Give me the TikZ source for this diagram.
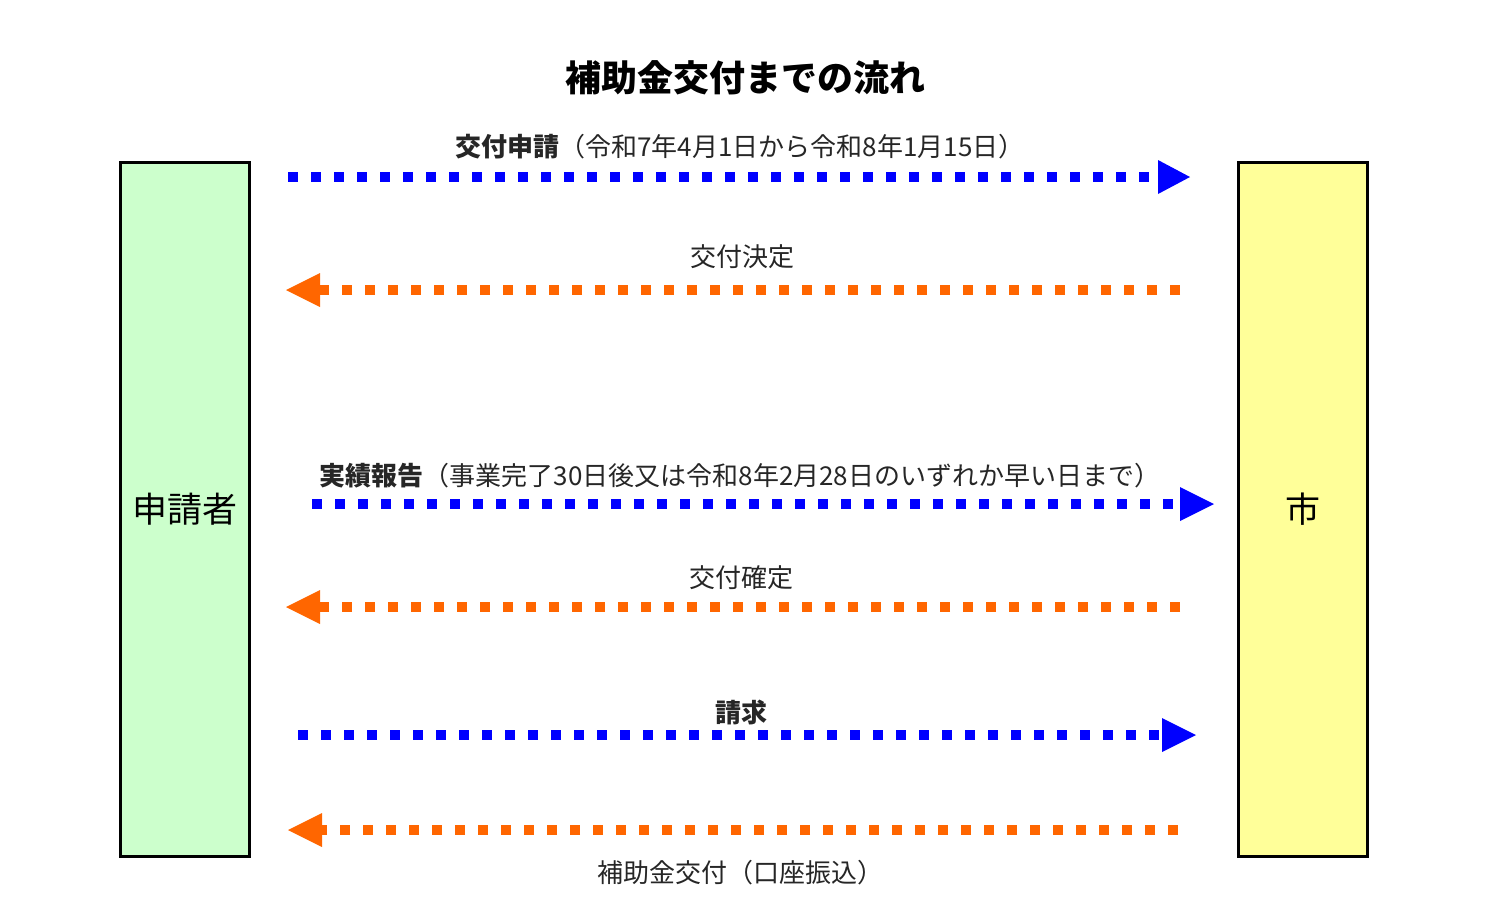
\documentclass[tikz,border=0pt]{standalone}
\usepackage{fontspec}
\setmainfont{Noto Sans CJK JP}
\usetikzlibrary{calc}
\definecolor{ablue}{HTML}{0000FF}
\definecolor{aorange}{HTML}{FF6600}
\definecolor{lgreen}{HTML}{CCFFCC}
\definecolor{lyellow}{HTML}{FFFF99}
\tikzset{
  party/.style={draw=black,line width=3pt,minimum width=129pt,minimum height=694pt,inner sep=0pt,font=\fontsize{35}{37}\selectfont},
  dline/.style={line width=10pt,dash pattern=on 10pt off 13pt},
  lbl/.style={font=\fontsize{26}{28}\selectfont,text=black!85,inner sep=0pt},
}
\begin{document}
\begin{tikzpicture}[x=1pt,y=-1pt]
\useasboundingbox (0,0) rectangle (1500,922);
\node[party,fill=lgreen] (app) at (184.5,509) {申請者};
\node[party,fill=lyellow] (city) at (1302.5,509) {市};
\node[font=\fontsize{36}{38}\selectfont\bfseries] (title) at (745,78) {補助金交付までの流れ};
% arrow 1
\coordinate (a1t) at (288,177); \coordinate (a1b) at (1158,177); \coordinate (a1h) at (1190,177);
\draw[dline,ablue] (a1t) -- (a1b);
\fill[ablue] (a1h) -- ($(a1b)+(0,-17)$) -- ($(a1b)+(0,17)$) -- cycle;
\node[lbl] (l1) at (740,147) {\textbf{交付申請}（令和7年4月1日から令和8年1月15日）};
% arrow 2
\coordinate (a2t) at (1180,290); \coordinate (a2b) at (320,290); \coordinate (a2h) at (286,290);
\draw[dline,aorange] (a2t) -- (a2b);
\fill[aorange] (a2h) -- ($(a2b)+(0,-17)$) -- ($(a2b)+(0,17)$) -- cycle;
\node[lbl] (l2) at (742,257) {交付決定};
% arrow 3
\coordinate (a3t) at (312,504); \coordinate (a3b) at (1180,504); \coordinate (a3h) at (1214,504);
\draw[dline,ablue] (a3t) -- (a3b);
\fill[ablue] (a3h) -- ($(a3b)+(0,-17)$) -- ($(a3b)+(0,17)$) -- cycle;
\node[lbl] (l3) at (740,476) {\textbf{実績報告}（事業完了30日後又は令和8年2月28日のいずれか早い日まで）};
% arrow 4
\coordinate (a4t) at (1180,607); \coordinate (a4b) at (320,607); \coordinate (a4h) at (286,607);
\draw[dline,aorange] (a4t) -- (a4b);
\fill[aorange] (a4h) -- ($(a4b)+(0,-17)$) -- ($(a4b)+(0,17)$) -- cycle;
\node[lbl] (l4) at (741,578) {交付確定};
% arrow 5
\coordinate (a5t) at (298,735); \coordinate (a5b) at (1162,735); \coordinate (a5h) at (1196,735);
\draw[dline,ablue] (a5t) -- (a5b);
\fill[ablue] (a5h) -- ($(a5b)+(0,-17)$) -- ($(a5b)+(0,17)$) -- cycle;
\node[lbl] (l5) at (741,712) {\textbf{請求}};
% arrow 6
\coordinate (a6t) at (1178,830); \coordinate (a6b) at (322,830); \coordinate (a6h) at (288,830);
\draw[dline,aorange] (a6t) -- (a6b);
\fill[aorange] (a6h) -- ($(a6b)+(0,-17)$) -- ($(a6b)+(0,17)$) -- cycle;
\node[lbl] (l6) at (740,873) {補助金交付（口座振込）};
\end{tikzpicture}
\end{document}
